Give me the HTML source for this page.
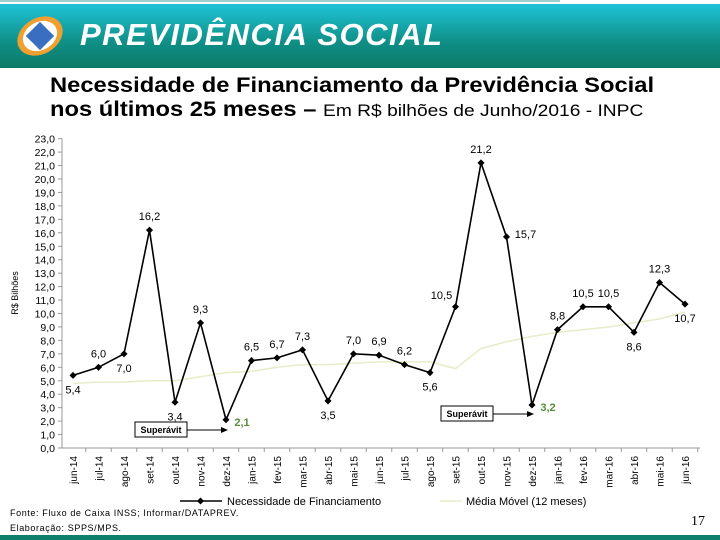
<!DOCTYPE html>
<html><head><meta charset="utf-8"><style>
body{margin:0;width:720px;height:540px;overflow:hidden;background:#fff;font-family:"Liberation Sans",sans-serif;position:relative}
#hdr{position:absolute;left:0;top:4px;width:720px;height:64px;background:linear-gradient(#1fc4d8,#0f8f86 60%,#0c7a66)}
#topline{position:absolute;left:0;top:0;width:560px;height:2px;background:#9ccfd6}
#brand{position:absolute;left:80px;top:13px;color:#fff;font-weight:bold;font-style:italic;font-size:31px;letter-spacing:1.5px}
#title{position:absolute;left:50px;top:74px;font-size:21px;line-height:24px;color:#000;font-weight:bold;white-space:nowrap;transform:scaleX(1.13);transform-origin:0 0}
#foot{position:absolute;left:0;bottom:0;width:720px;height:5px;background:#0e7f6b}
.src{position:absolute;left:10px;font-size:9px;letter-spacing:0.6px}
</style></head><body>
<div id="topline"></div>
<div id="hdr">
<svg width="70" height="60" style="position:absolute;left:10px;top:2px"><ellipse cx="30" cy="30" rx="24" ry="18" fill="#f0a030" transform="rotate(-30 30 30)"/><ellipse cx="30" cy="30" rx="18" ry="14" fill="#fff" transform="rotate(-30 30 30)"/><rect x="20" y="20" width="20" height="20" fill="#3a6fc0" transform="rotate(45 30 30)"/></svg>
<div id="brand">PREVIDÊNCIA SOCIAL</div></div>
<div id="title">Necessidade de Financiamento da Previdência Social<br>nos últimos 25 meses – <span style="font-size:17px;font-weight:normal">Em R$ bilhões de Junho/2016 - INPC</span></div>
<svg id="chart" width="720" height="540" style="position:absolute;left:0;top:0"></svg>
<div class="src" style="top:508px">Fonte: Fluxo de Caixa INSS; Informar/DATAPREV.</div>
<div class="src" style="top:523px">Elaboração: SPPS/MPS.</div>
<div style="position:absolute;left:691px;top:514px;font-family:'Liberation Serif',serif;font-size:14px">17</div>
<div id="foot"></div>
<script>
const months=["jun-14","jul-14","ago-14","set-14","out-14","nov-14","dez-14","jan-15","fev-15","mar-15","abr-15","mai-15","jun-15","jul-15","ago-15","set-15","out-15","nov-15","dez-15","jan-16","fev-16","mar-16","abr-16","mai-16","jun-16"];
const need=[5.4,6.0,7.0,16.2,3.4,9.3,2.1,6.5,6.7,7.3,3.5,7.0,6.9,6.2,5.6,10.5,21.2,15.7,3.2,8.8,10.5,10.5,8.6,12.3,10.7];
const movAvg=[4.8,4.9,4.9,5.0,5.0,5.3,5.6,5.7,6.0,6.2,6.2,6.3,6.4,6.4,6.4,5.9,7.4,7.9,8.3,8.6,8.8,9.0,9.3,9.6,10.1];
const yTicks=[0,1,2,3,4,5,6,7,8,9,10,11,12,13,14,15,16,17,18,19,20,21,22,23];
const labelSide=["b","a","b","a","b","a","g","a","a","a","b","a","a","a","b","l","a","r","g","a","a","a","b","a","b"];
const S=document.getElementById('chart'),NS='http://www.w3.org/2000/svg';
const X=i=>73+i*25.5, Y=v=>448-v*13.45;
function mk(t,a,p){const e=document.createElementNS(NS,t);for(const k in a)e.setAttribute(k,a[k]);(p||S).appendChild(e);return e;}
const ax=mk('line',{x1:62,y1:Y(23),x2:62,y2:448,stroke:'#999'});


const xa=mk('line',{x1:62,y1:448,x2:700,y2:448,stroke:'#999'});


yTicks.forEach(v=>{mk('line',{x1:58,y1:Y(v),x2:62,y2:Y(v),stroke:'#999'});
const t=mk('text',{x:55,y:Y(v)+4,'text-anchor':'end','font-size':10.5});t.textContent=v.toFixed(1).replace('.',',');

});
months.forEach((m,i)=>{mk('line',{x1:X(i)+12.75,y1:448,x2:X(i)+12.75,y2:452,stroke:'#999'});
const t=mk('text',{x:0,y:0,'text-anchor':'end','font-size':10,transform:`translate(${X(i)+4},456) rotate(-90)`});t.textContent=m;

});
const yt=mk('text',{x:0,y:0,'text-anchor':'middle','font-size':9,transform:'translate(18,293) rotate(-90)'});yt.textContent='R$ Bilhões';


const ma=mk('polyline',{points:movAvg.map((v,i)=>X(i)+','+Y(v)).join(' '),fill:'none',stroke:'#e6edc8','stroke-width':1.5});


const nl=mk('polyline',{points:need.map((v,i)=>X(i)+','+Y(v)).join(' '),fill:'none',stroke:'#000','stroke-width':1.6});


need.forEach((v,i)=>{const d=mk('rect',{x:X(i)-2.5,y:Y(v)-2.5,width:5,height:5,fill:'#000',transform:`rotate(45 ${X(i)} ${Y(v)})`});


const s=labelSide[i];let lx=X(i),ly=Y(v)-10,col='#000',fw='normal';
if(s==='b')ly=Y(v)+18;if(s==='l'){lx=X(i)-14;ly=Y(v)-8;}
if(s==='r'){lx=X(i)+19;ly=Y(v)+1;}
if(s==='g'){lx=X(i)+16;ly=Y(v)+6;col='#5a8a3a';fw='bold';}
const t=mk('text',{x:lx,y:ly,'text-anchor':'middle','font-size':11,fill:col,'font-weight':fw});t.textContent=v.toFixed(1).replace('.',',');

});
[[6,135,422],[18,441,406]].forEach(([i,bx,by])=>{const b=mk('rect',{x:bx,y:by,width:52,height:15,fill:'#fff',stroke:'#000'});


const t=mk('text',{x:bx+26,y:by+11,'text-anchor':'middle','font-size':9,'font-weight':'bold'});t.textContent='Superávit';


mk('line',{x1:bx+52,y1:by+8,x2:X(i)+0,y2:by+8,stroke:'#000'});
mk('polygon',{points:`${X(i)+2},${by+8} ${X(i)-5},${by+5} ${X(i)-5},${by+11}`,fill:'#000'});});
const l1=mk('line',{x1:180,y1:501,x2:222,y2:501,stroke:'#000','stroke-width':1.5});


mk('rect',{x:198,y:498.5,width:5,height:5,fill:'#000',transform:'rotate(45 200.5 501)'});
const lt1=mk('text',{x:227,y:505,'font-size':11});lt1.textContent='Necessidade de Financiamento';


const l2=mk('line',{x1:440,y1:501,x2:462,y2:501,stroke:'#e6edc8','stroke-width':1.5});


const lt2=mk('text',{x:466,y:505,'font-size':11});lt2.textContent='Média Móvel (12 meses)';


</script>
</body></html>
